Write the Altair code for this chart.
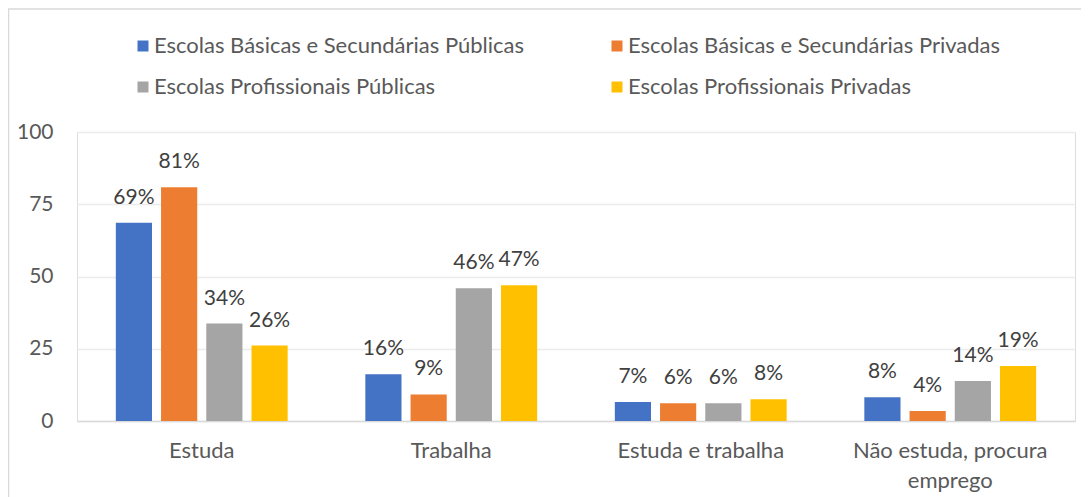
import altair as alt
import pandas as pd

categories = ["Estuda", "Trabalha", "Estuda e trabalha", "Não estuda, procura emprego"]
series = [
    "Escolas Básicas e Secundárias Públicas",
    "Escolas Básicas e Secundárias Privadas",
    "Escolas Profissionais Públicas",
    "Escolas Profissionais Privadas",
]
colors = ["#4472C4", "#ED7D31", "#A5A5A5", "#FFC000"]

basicas_publicas = [68.6, 16.2, 6.6, 8.2]
basicas_privadas = [80.9, 9.2, 6.1, 3.5]
prof_publicas = [33.7, 45.9, 6.1, 13.8]
prof_privadas = [26.1, 47.0, 7.5, 19.0]

labels_bp = ["69%", "16%", "7%", "8%"]
labels_bv = ["81%", "9%", "6%", "4%"]
labels_pp = ["34%", "46%", "6%", "14%"]
labels_pv = ["26%", "47%", "8%", "19%"]

y_ticks = [0, 25, 50, 75, 100]

rows = []
for s, vals, labs in zip(series,
                         [basicas_publicas, basicas_privadas, prof_publicas, prof_privadas],
                         [labels_bp, labels_bv, labels_pp, labels_pv]):
    for c, v, l in zip(categories, vals, labs):
        rows.append({"categoria": c, "serie": s, "valor": v, "rotulo": l})
df = pd.DataFrame(rows)

FONT = "Lato"
TXT = "#595959"

x_enc = alt.X(
    "categoria:N",
    sort=categories,
    scale=alt.Scale(paddingInner=0.275, paddingOuter=0.1375),
    axis=alt.Axis(
        title=None,
        labelAngle=0,
        labelFontSize=22,
        labelColor=TXT,
        labelFont=FONT,
        labelPadding=19,
        labelLineHeight=30,
        labelLimit=600,
        ticks=False,
        domainColor="#d9d9d9",
        domainWidth=1.5,
        grid=False,
        labelExpr="datum.label == 'Não estuda, procura emprego' ? ['Não estuda, procura', 'emprego'] : datum.label",
    ),
)
xoff = alt.XOffset("serie:N", sort=series,
                   scale=alt.Scale(paddingInner=0.2, paddingOuter=0.1))
y_enc = alt.Y(
    "valor:Q",
    scale=alt.Scale(domain=[0, 100], nice=False),
    axis=alt.Axis(
        title=None,
        values=y_ticks,
        labelFontSize=21,
        labelColor=TXT,
        labelFont=FONT,
        labelPadding=24,
        ticks=False,
        tickSize=0,
        domain=False,
        gridColor="#ececec",
        gridWidth=1.5,
    ),
)

bars = alt.Chart(df).mark_bar().encode(
    x=x_enc,
    xOffset=xoff,
    y=y_enc,
    color=alt.Color(
        "serie:N",
        sort=series,
        scale=alt.Scale(domain=series, range=colors),
        legend=alt.Legend(
            title=None,
            orient="none",
            direction="horizontal",
            legendX=55,
            legendY=-97,
            columns=2,
            columnPadding=81,
            rowPadding=19,
            labelFontSize=22,
            labelFont=FONT,
            labelColor=TXT,
            labelLimit=600,
            labelOffset=0,
            symbolType="square",
            symbolSize=121,
            symbolStrokeWidth=0,
            padding=0,
        ),
    ),
)

text = alt.Chart(df).mark_text(
    baseline="middle", dy=-25, fontSize=21, font=FONT, color="#404040"
).encode(
    x=alt.X("categoria:N", sort=categories),
    xOffset=alt.XOffset("serie:N", sort=series),
    y="valor:Q",
    text="rotulo:N",
)

frame_df = pd.DataFrame({"k": [0]})
frame_left = alt.Chart(frame_df).mark_rule(color="#d9d9d9", strokeWidth=1.5).encode(
    x=alt.value(-68.5), y=alt.value(-123), y2=alt.value(400)
)
frame_top = alt.Chart(frame_df).mark_rule(color="#d9d9d9", strokeWidth=1.5).encode(
    x=alt.value(-69), x2=alt.value(1100), y=alt.value(-123)
)

chart = alt.layer(bars, text, frame_left, frame_top).properties(
    width=998,
    height=289,
    autosize=alt.AutoSizeParams(type="none"),
    padding={"left": 69, "top": 124, "right": 6, "bottom": 76},
).configure_view(stroke=None).configure(font=FONT)

chart.save("out.html", embed_options={"renderer": "svg", "actions": False})
